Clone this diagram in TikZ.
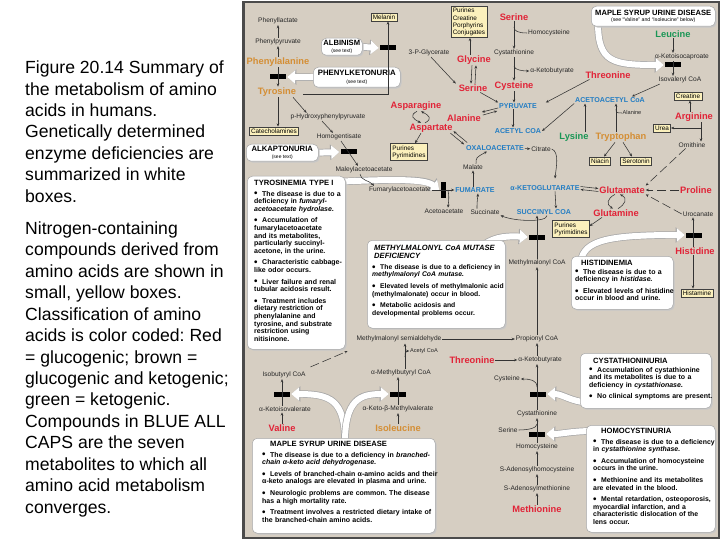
\documentclass[tikz,border=0pt]{standalone}
\usepackage{fontspec}
\setmainfont{Liberation Sans}
\usetikzlibrary{arrows.meta}
\pgfdeclarelayer{back}
\pgfdeclarelayer{mid}
\pgfsetlayers{back,mid,main}
\definecolor{bgtan}{RGB}{214,206,194}
\definecolor{aared}{RGB}{225,35,55}
\definecolor{aaorange}{RGB}{212,142,52}
\definecolor{aagreen}{RGB}{25,150,85}
\definecolor{hubblue}{RGB}{35,125,195}
\definecolor{yfill}{RGB}{251,240,188}
\definecolor{framegray}{RGB}{75,75,75}
\newcommand\bul{\par\vspace{4pt}\hangindent=8pt\hangafter=1\noindent\hbox to 8pt{\raisebox{-0.7pt}{\fontsize{9.8}{9}\selectfont\textbullet}\hss}}
\newcommand\btf{\fontsize{7.6}{8.2}\selectfont\bfseries}
\newcommand\fatarrow[1]{\draw[fatout] #1; \draw[fatin] #1;}
\newcommand\dbx[5]{%
  \fill[black!22, rounded corners=5pt] (#2+1.6,#3+1.6) rectangle (#4+1.6,#5+1.6);
  \node[dbox, anchor=north west, minimum width={(#4-#2)*1pt}, minimum height={(#5-#3)*1pt}] (#1) at (#2,#3) {};}
\tikzset{
  met/.style={font=\fontsize{6.6}{7.2}\selectfont, inner sep=0.8pt, text=black!85},
  sml/.style={font=\fontsize{5.6}{6}\selectfont, inner sep=0.6pt, text=black!85},
  aa/.style={font=\fontsize{9.3}{10}\selectfont\bfseries, inner sep=0.8pt},
  aaR/.style={aa, text=aared},
  aaO/.style={aa, text=aaorange},
  aaG/.style={aa, text=aagreen},
  hub/.style={font=\fontsize{7.1}{8}\selectfont\bfseries, text=hubblue, inner sep=0.8pt},
  yb/.style={draw=black!75, line width=0.5pt, fill=yfill, font=\fontsize{6.4}{7.2}\selectfont, inner sep=1.8pt, align=left},
  blk/.style={fill=black, inner sep=0pt, minimum width=16pt, minimum height=5pt},
  vblk/.style={fill=black, inner sep=0pt, minimum width=5pt, minimum height=16pt},
  arr/.style={draw=black!80, line width=0.55pt, -{Stealth[length=3.2pt,width=2.6pt]}},
  ln/.style={draw=black!80, line width=0.55pt},
  darr/.style={arr, dash pattern=on 9pt off 4pt},
  dbox/.style={fill=white, draw=black!35, line width=0.5pt, rounded corners=5pt, inner sep=0pt},
  btext/.style={anchor=north west, inner sep=0pt, align=left, text width=#1, font=\fontsize{7}{7.6}\selectfont\bfseries},
  fatout/.style={draw=black!35, line width=7.4pt, -{Triangle[length=9.2pt,width=15pt]}},
  fatin/.style={draw=white, line width=6pt, -{Triangle[length=8pt,width=13pt]}},
}
\begin{document}
\frenchspacing
\begin{tikzpicture}[x=1pt,y=-1pt]
\useasboundingbox (0,0) rectangle (720,540);
\begin{pgfonlayer}{back}
\fill[white] (0,0) rectangle (720,540);
\fill[bgtan] (242,1) rectangle (719,538);
\draw[framegray, line width=2pt] (243,2) rectangle (718.5,537.5);
\fill[framegray] (241.5,1) rectangle (245,538.5);
\end{pgfonlayer}

% caption
\node[anchor=north west, inner sep=0pt, align=left, font=\fontsize{17.6}{21.45}\selectfont] (caption) at (25,60.6) {Figure 20.14 Summary of\\the metabolism of amino\\acids in humans.\\Genetically determined\\enzyme deficiencies are\\summarized in white\\boxes.\\[10.6pt]Nitrogen-containing\\compounds derived from\\amino acids are shown in\\small, yellow boxes.\\Classification of amino\\acids is color coded: Red\\= glucogenic; brown =\\glucogenic and ketogenic;\\green = ketogenic.\\Compounds in BLUE ALL\\CAPS are the seven\\metabolites to which all\\amino acid metabolism\\converges.};

% ---------- disease boxes ----------
\dbx{pku}{313}{67}{400}{87}
\node[align=center, inner sep=0pt, font=\fontsize{7.8}{8.2}\selectfont] (pkutxt) at (pku.center) {\textbf{PHENYLKETONURIA}\\[-1pt]{\fontsize{5}{5.5}\selectfont (see text)}};
\dbx{alb}{321}{38}{362}{55}
\node[align=center, inner sep=0pt, font=\fontsize{7.6}{8}\selectfont] (albtxt) at (alb.center) {\textbf{ALBINISM}\\[-1pt]{\fontsize{5}{5.5}\selectfont (see text)}};
\dbx{alk}{246}{144}{318}{161}
\node[align=center, inner sep=0pt, font=\fontsize{7.7}{8}\selectfont] (alktxt) at (alk.center) {\textbf{ALKAPTONURIA}\\[-1pt]{\fontsize{5}{5.5}\selectfont (see text)}};
\dbx{msudtop}{591}{6}{715}{26}
\node[align=center, inner sep=0pt, font=\fontsize{7.6}{8}\selectfont] (msudtoptxt) at (msudtop.center) {\textbf{MAPLE SYRUP URINE DISEASE}\\[-1.5pt]{\fontsize{5.2}{5.5}\selectfont (see “Valine” and “Isoleucine” below)}};

\dbx{tyrbox}{247}{176}{345}{349}
\node[btext=95pt] (tyrtxt) at (254,180) {{\btf TYROSINEMIA TYPE I\par}\vspace{-1pt}%
\bul The disease is due to a\\deficiency in \textit{fumaryl-}\\\textit{acetoacetate hydrolase.}
\bul Accumulation of\\fumarylacetoacetate\\and its metabolites,\\particularly succinyl-\\acetone, in the urine.
\bul Characteristic cabbage-\\like odor occurs.
\bul Liver failure and renal\\tubular acidosis result.
\bul Treatment includes\\dietary restriction of\\phenylalanine and\\tyrosine, and substrate\\restriction using\\nitisinone.};

\dbx{mmbox}{367}{240}{505}{328}
\node[btext=150pt, font=\fontsize{6.8}{7.6}\selectfont\bfseries] (mmtxt) at (372,245) {{\btf\itshape \hspace*{2pt}METHYLMALONYL CoA MUTASE\\\hspace*{2pt}DEFICIENCY\par}\vspace{-1pt}%
\bul The disease is due to a deficiency in\\\textit{methylmalonyl CoA mutase.}
\bul Elevated levels of methylmalonic acid\\(methylmalonate) occur in blood.
\bul Metabolic acidosis and\\developmental problems occur.};

\dbx{hisbox}{571}{256}{673}{309}
\node[btext=110pt] (histxt) at (575,259.5) {{\btf \hspace*{6pt}HISTIDINEMIA\par}\vspace{-2.5pt}%
\bul The disease is due to a\\deficiency in \textit{histidase.}
\bul Elevated levels of histidine\\occur in blood and urine.};

\dbx{cbox}{580}{353}{711}{408}
\node[btext=140pt] (ctxt) at (589,357.5) {{\btf \hspace*{4pt}CYSTATHIONINURIA\par}\vspace{-2.5pt}%
\bul Accumulation of cystathionine\\and its metabolites is due to a\\deficiency in \textit{cystathionase.}
\bul No clinical symptoms are present.};

\dbx{hcbox}{586}{425}{715}{532}
\node[btext=140pt, font=\fontsize{6.9}{7.6}\selectfont\bfseries] (hctxt) at (593,428) {{\btf \hspace*{8pt}HOMOCYSTINURIA\par}\vspace{-1pt}%
\bul The disease is due to a deficiency\\in \textit{cystathionine synthase.}
\bul Accumulation of homocysteine\\occurs in the urine.
\bul Methionine and its metabolites\\are elevated in the blood.
\bul Mental retardation, osteoporosis,\\myocardial infarction, and a\\characteristic dislocation of the\\lens occur.};

\dbx{msudbot}{252}{438}{435}{533}
\node[btext=190pt] (msudbottxt) at (262,441) {{\btf \hspace*{8pt}MAPLE SYRUP URINE DISEASE\par}\vspace{-1pt}%
\bul The disease is due to a deficiency in \textit{branched-}\\\textit{chain α-keto acid dehydrogenase.}
\bul Levels of branched-chain α-amino acids and their\\α-keto analogs are elevated in plasma and urine.
\bul Neurologic problems are common. The disease\\has a high mortality rate.
\bul Treatment involves a restricted dietary intake of\\the branched-chain amino acids.};

% ---------- phenylalanine / tyrosine ----------
\node[met] (phlac) at (278,21) {Phenyllactate};
\node[met] (phpyr) at (278,42) {Phenylpyruvate};
\node[aaO] (phe) at (278,62) {Phenylalanine};
\node[blk] (bPKU) at (278,77) {};
\node[aaO] (tyr) at (277,92) {Tyrosine};
\node[yb] (melanin) at (384,17) {Melanin};
\node[blk] (bAlb) at (388,48) {};
\node[met] (hpp) at (328,117) {p-Hydroxyphenylpyruvate};
\node[yb] (catech) at (274,131) {Catecholamines};
\node[met] (homog) at (339,137) {Homogentisate};
\node[blk] (bAlk) at (348.5,152) {};
\node[met] (maley) at (364,170) {Maleylacetoacetate};
\node[met] (fumac) at (400,190) {Fumarylacetoacetate};
\node[vblk] (bTyr) at (443,190) {};
\node[hub] (fum) at (475,190) {FUMARATE};
\node[met] (acac) at (444,211) {Acetoacetate};
\coordinate (jAcac) at (448,190);

\draw[arr] (phpyr) -- (phlac);
\draw[arr] (phe) -- (phpyr);
\draw[arr] (phe.south -| bPKU) -- (bPKU |- tyr.north);
\draw[arr] (tyr.south -| bPKU) -- (bPKU |- catech.north);
\draw[arr] ([xshift=6pt,yshift=-2pt]tyr.east) -- ([yshift=-2pt]tyr.east -| bAlb) -- (bAlb |- melanin.south);
\draw[arr] ([xshift=-4pt]tyr.south east) -- ([xshift=17pt]hpp.north west);
\draw[arr] ([xshift=-6pt]hpp.south) -- ([xshift=-6pt]homog.north);
\draw[arr] ([xshift=2pt]homog.south) -- ([xshift=-6pt]maley.north);
\draw[arr] ([xshift=-4pt]maley.south) .. controls +(0,6) and +(-4,-5) .. ([xshift=-26pt]fumac.north);
\draw[arr] (fumac) -- (fum);
\draw[arr] (jAcac) .. controls +(1,7) .. ([xshift=4pt]acac.north);

% ---------- TCA cycle ----------
\node[hub] (oaa) at (495,148) {OXALOACETATE};
\node[met] (cit) at (541,149) {Citrate};
\node[hub] (akg) at (545,188) {α-KETOGLUTARATE};
\node[hub] (succoa) at (544,212) {SUCCINYL COA};
\node[met] (succ) at (485,212) {Succinate};
\node[met] (mal) at (473,167) {Malate};
\node[yb] (purB) at (409,152) {Purines\\Pyrimidines};
\draw[arr] (oaa) -- (cit);
\draw[arr] (cit.east) .. controls +(8,3) and +(1,-10) .. ([xshift=10pt,yshift=6pt]akg.north);
\draw[arr] ([xshift=10pt]akg.south) -- ([xshift=12pt]succoa.north);
\draw[arr] ([xshift=3pt]succoa.south) .. controls +(0,7) and +(14,6) .. (succ.south east);
\draw[arr] ([xshift=-8pt]succ.north) .. controls +(0,-5) .. ([xshift=3pt]fum.south);
\draw[arr] ([xshift=-2pt]fum.north) -- (mal.south);
\draw[arr] ([xshift=3pt]mal.north) .. controls +(0,-6) .. ([xshift=-8pt]oaa.south);

% ---------- serine / pyruvate ----------
\node[yb] (purA) at (469,22) {Purines\\Creatine\\Porphyrins\\Conjugates};
\node[aaR] (ser1) at (514,17) {Serine};
\node[met] (hcy1) at (549,33) {Homocysteine};
\node[met] (cysta1) at (514,53) {Cystathionine};
\node[met] (akb1) at (552,71) {α-Ketobutyrate};
\node[aaR] (cys1) at (514,86) {Cysteine};
\node[met] (pg) at (429,53) {3-P-Glycerate};
\node[aaR] (gly) at (474,60) {Glycine};
\node[aaR] (ser2) at (473,88) {Serine};
\node[hub] (pyr) at (518,106) {PYRUVATE};
\node[aaR] (ala) at (464,118) {Alanine};
\node[aaR] (asn) at (416,106) {Asparagine};
\node[aaR] (asp) at (431,128) {Aspartate};
\node[hub] (acoa) at (518,131) {ACETYL COA};
\coordinate (jHcy) at (514,27);
\coordinate (jAkb) at (514,66);

\draw[arr] (ser1) -- (cysta1);
\draw[ln] (hcy1.west) .. controls +(-9,0) and +(0,4) .. (jHcy);
\draw[arr] (cysta1) -- (cys1);
\draw[arr] (jAkb) .. controls +(0,4) and +(-6,0) .. (akb1.west);
\draw[arr] (cys1.south) -- (cys1.south |- pyr.north);
\draw[arr] ([xshift=2pt]pg.south) -- ([xshift=-2pt]ser2.north west);
\draw[arr] ([xshift=-4pt]gly.north) -- ([xshift=-4pt]gly.north |- purA.south);
\draw[arr] ([xshift=-2pt]gly.south) -- ([xshift=-2pt]ser2.north);
\draw[arr] ([xshift=2pt]ser2.north) -- ([xshift=2pt]gly.south);
\draw[arr] ([xshift=-8pt]ser2.south east) -- (pyr.north west);
\draw[arr] ([xshift=1pt,yshift=-1.5pt]ala.north east) -- ([xshift=-1pt,yshift=-1.5pt]pyr.south west);
\draw[arr] ([yshift=1.5pt]pyr.south west) -- ([yshift=1.5pt]ala.north east);
\draw[arr] ([xshift=1pt]asn.south) .. controls +(-8,4) and +(-8,-4) .. ([xshift=-10pt]asp.north);
\draw[arr] ([xshift=-6pt]asp.north) .. controls +(8,-4) and +(8,4) .. ([xshift=5pt]asn.south);
\draw[arr] ([xshift=-10pt]asp.south) -- ([xshift=6pt]purB.north);
\draw[arr] ([xshift=-3pt]asp.south east) -- ([xshift=-1pt]oaa.north west);
\draw[arr] ([xshift=2pt,yshift=2pt]oaa.north west) -- ([xshift=0pt,yshift=2pt]asp.south east);
\draw[arr] ([xshift=-5pt]pyr.south) -- ([xshift=-5pt]acoa.north);

% ---------- threonine / leucine / acetoacetyl ----------
\node[aaR] (thr1) at (608,75) {Threonine};
\node[aaG] (leu) at (673,34) {Leucine};
\node[met] (akic) at (682,57) {α-Ketoisocaproate};
\node[blk] (bLeu) at (673,65) {};
\node[met] (isoval) at (680,80) {Isovaleryl CoA};
\node[hub] (aacoa) at (610,100) {ACETOACETYL CoA};
\node[sml] (ala2) at (632,113) {Alanine};
\node[aaG] (lys) at (574,137) {Lysine};
\node[aaO] (trp) at (621,137) {Tryptophan};
\node[yb] (niacin) at (600,161) {Niacin};
\node[yb] (sero) at (636,161) {Serotonin};
\coordinate (jAla) at (616,109);

\draw[arr] ([xshift=5pt]thr1.south west) -- ([xshift=8pt]pyr.north east);
\draw[arr] (leu) -- (leu |- akic.north);
\draw[arr] (leu |- akic.south) -- (leu |- isoval.north);
\draw[arr] ([xshift=2pt]isoval.south west) -- ([xshift=-14pt]aacoa.north east);
\draw[arr] (aacoa.south west) -- (acoa.east);
\draw[arr] ([xshift=11pt]lys.north) -- ([xshift=11pt]lys.north |- aacoa.south);
\draw[arr] ([xshift=-5pt]trp.north) -- ([xshift=-5pt]trp.north |- aacoa.south);
\draw[ln] (ala2.west) .. controls +(-6,0) and +(0,3) .. (jAla);
\draw[arr] ([xshift=-6pt]trp.south) -- ([xshift=4pt]niacin.north);
\draw[arr] ([xshift=2pt]trp.south) -- ([xshift=-4pt]sero.north);

% ---------- arginine / glutamate / histidine ----------
\node[yb] (creat) at (688,96) {Creatine};
\node[aaR] (arg) at (694,117) {Arginine};
\node[yb] (urea) at (662,128) {Urea};
\node[met] (orn) at (692,145) {Ornithine};
\node[aaR] (glu) at (622,190) {Glutamate};
\node[aaR] (pro) at (696,190) {Proline};
\node[aaR] (gln) at (616,213) {Glutamine};
\node[met] (uroc) at (698,214) {Urocanate};
\node[blk] (bHis) at (694,235) {};
\node[aaR] (his) at (695,251) {Histidine};
\node[yb] (histam) at (697,293) {Histamine};
\node[yb] (purC) at (571,229) {Purines\\Pyrimidines};
\coordinate (jUrea) at (701,128);

\draw[arr] ([xshift=-4pt]arg.north) -- ([xshift=-4pt]arg.north |- creat.south);
\draw[ln] (arg.south -| jUrea) -- (jUrea);
\draw[arr] (jUrea) -- (urea.east);
\draw[arr] (jUrea) -- (jUrea |- orn.north);
\draw[darr] ([xshift=8pt]orn.south west) -- (glu.north east);
\draw[darr] (pro) -- (glu);
\draw[darr] (uroc.west) -- (glu.south east);
\draw[arr] ([yshift=1.5pt]akg.east) -- ([yshift=1.5pt]glu.west);
\draw[arr] ([yshift=-1.5pt]glu.west) -- ([yshift=-1.5pt]akg.east);
\draw[arr] ([xshift=-7pt]glu.south) .. controls +(-8,4) and +(-7,-4) .. ([xshift=-3pt]gln.north);
\draw[arr] ([xshift=2pt]gln.north) .. controls +(7,-4) and +(8,4) .. ([xshift=-2pt]glu.south);
\draw[arr] ([xshift=-14pt]gln.south) -- ([yshift=3pt]purC.east);
\draw[arr] ([xshift=-2pt]his.north) -- ([xshift=-2pt]his.north |- uroc.south);
\draw[arr] ([xshift=-2pt]his.south) -- ([xshift=-2pt]his.south |- histam.north);

% ---------- propionyl / methylmalonyl ----------
\node[met] (mmcoa) at (537,263) {Methylmalonyl CoA};
\node[blk] (bMM) at (537,237) {};
\node[met] (propcoa) at (537,339) {Propionyl CoA};
\node[met] (mmsa) at (399,339) {Methylmalonyl semialdehyde};
\node[aaR] (thr2) at (472,360) {Threonine};
\node[met] (akb2) at (540,360) {α-Ketobutyrate};
\node[met] (cys2) at (507,379) {Cysteine};
\node[blk] (bCysta) at (538,394) {};
\node[met] (cysta2) at (537,414) {Cystathionine};
\node[met] (ser3) at (508,430) {Serine};
\node[blk] (bCbs) at (537,434) {};
\node[met] (hcy2) at (537,447) {Homocysteine};
\node[met] (sah) at (537,470) {S-Adenosylhomocysteine};
\node[met] (sam) at (537,489) {S-Adenosylmethionine};
\node[aaR] (metn) at (537,509) {Methionine};
\coordinate (jCys) at (537,387);
\coordinate (jSer) at (537,424);

\draw[arr] (mmcoa) -- (mmcoa |- succoa.south);
\draw[arr] (propcoa) -- (mmcoa);
\draw[arr] (mmsa) -- (propcoa);
\draw[arr] (thr2) -- (akb2);
\draw[arr] (propcoa |- akb2.north) -- (propcoa.south);
\draw[arr] (cysta2) -- (propcoa |- akb2.south);
\draw[arr] (jCys) .. controls +(0,-7) and +(9,0) .. (cys2.east);
\draw[ln] (ser3.east) .. controls +(10,0) and +(0,4) .. (jSer);
\draw[arr] (hcy2) -- (cysta2);
\draw[arr] (sah) -- (hcy2);
\draw[arr] (sam) -- (sah);
\draw[arr] (metn) -- (sam);

% ---------- branched chain ----------
\node[met] (ibcoa) at (284,375) {Isobutyryl CoA};
\node[met] (mbcoa) at (401,373) {α-Methylbutyryl CoA};
\node[sml] (acetcoa2) at (424,351) {Acetyl CoA};
\node[blk] (bIB) at (282,394) {};
\node[blk] (bMB) at (398,394) {};
\node[met] (akiv) at (285,409) {α-Ketoisovalerate};
\node[aaR] (val) at (282,428) {Valine};
\node[met] (akmv) at (398,409) {α-Keto-β-Methylvalerate};
\node[aaO] (ile) at (398,428) {Isoleucine};
\coordinate (jMBtop) at (405,343.5);
\coordinate (jMBac) at (405,357);

\draw[arr] (val) -- (val |- akiv.south);
\draw[arr] (akiv.north -| bIB) -- (bIB |- ibcoa.south);
\draw[arr] (ile.north -| bMB) -- (bMB |- akmv.south);
\draw[arr] (akmv.north -| bMB) -- (bMB |- mbcoa.south);
\draw[arr] (mbcoa.north -| jMBtop) -- (jMBtop);
\draw[arr] (jMBac) .. controls +(0,-5) and +(-4,0) .. (acetcoa2.west);
\draw[darr] ([xshift=4pt,yshift=4pt]ibcoa.north east) -- ([xshift=-8pt,yshift=-8pt]mmsa.south west);

% ---------- white arrows ----------
\begin{pgfonlayer}{mid}
\fatarrow{([xshift=3pt]pku.west) -- ([xshift=1pt]bPKU.east)}
\fatarrow{([xshift=-3pt]alb.east) -- ([xshift=-1pt]bAlb.west)}
\fatarrow{([xshift=-3pt]alk.east) -- ([xshift=-1pt]bAlk.west)}
\fatarrow{([xshift=7pt,yshift=4pt]msudtop.south west) .. controls (598,62) and (612,65) .. ([xshift=-1pt]bLeu.west)}
\fatarrow{([xshift=-14pt,yshift=-6pt]tyrbox.north east) .. controls (395,179) and (425,179) .. ([xshift=-1pt]bTyr.west)}
\fatarrow{([xshift=-22pt,yshift=-5pt]mmbox.north east) .. controls (495,236) and (510,236) .. ([xshift=-1pt]bMM.west)}
\fatarrow{([xshift=10pt,yshift=-5pt]hisbox.north west) .. controls (584,240) and (610,235) .. ([xshift=-1pt]bHis.west)}
\fatarrow{([xshift=8pt,yshift=6pt]cbox.south west) .. controls (572,402) and (562,394) .. ([xshift=1pt]bCysta.east)}
\fatarrow{([xshift=8pt,yshift=-6pt]hcbox.north west) .. controls (572,431) and (562,434) .. ([xshift=1pt]bCbs.east)}
\fatarrow{([xshift=93pt,yshift=-4pt]msudbot.north west) .. controls (345,400) and (330,394) .. ([xshift=1pt]bIB.east)}
\fatarrow{([xshift=93pt,yshift=-4pt]msudbot.north west) .. controls (345,400) and (360,394) .. ([xshift=-1pt]bMB.west)}
\end{pgfonlayer}
\end{tikzpicture}
\end{document}
